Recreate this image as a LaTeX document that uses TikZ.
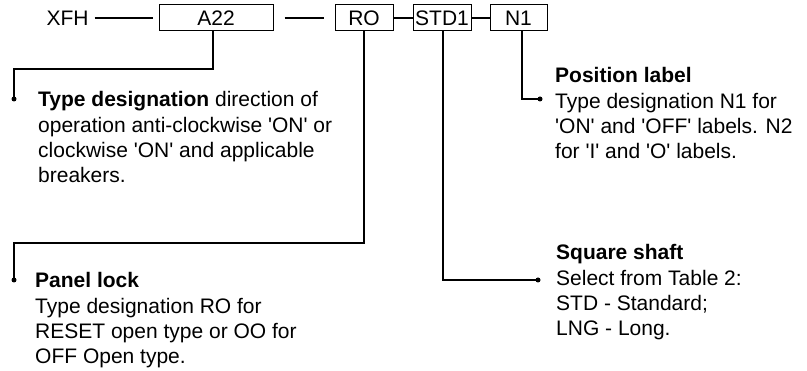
\documentclass[tikz,border=0pt]{standalone}
\usepackage{fontspec}
\setmainfont{Liberation Sans}
\newcommand{\sq}{\textquotesingle}

\begin{document}
\begin{tikzpicture}[
      x=1pt,
      y=-1pt,
      font=\fontsize{21}{25.4}\selectfont,
      codebox/.style={draw, line width=1pt, minimum height=26pt, inner sep=0pt},
      lead/.style={line width=1.1pt},
      note/.style={anchor=north west, align=left, inner sep=0pt},
      tip/.style={circle, fill, inner sep=0pt, minimum size=5pt}
  ]
  \useasboundingbox (0,0) rectangle (807,371);
  % Pixel grid: x to the right, y downwards
  % Code row at y=18, notes hang below

  % --- Type code ---
  \node (xfh)              at (67.5,18)  {XFH};
  \node[codebox, minimum width=114pt] (a22)  at (216,18)   {A22};
  \node[codebox, minimum width=58pt]  (ro)   at (364,18)   {RO};
  \node[codebox, minimum width=58pt]  (std1) at (442,18)   {STD1};
  \node[codebox, minimum width=57pt]  (n1)   at (518.5,18) {N1};

  \draw[lead, shorten <=2.5pt, shorten >=6pt] (xfh) -- (a22);
  \draw[lead, shorten <=11pt, shorten >=11pt] (a22) -- (ro);
  \draw[lead] (ro) -- (std1);
  \draw[lead] (std1) -- (n1);

  % --- Lead-out dots ---
  \node[tip] (tiptype)  at (14,99)  {};
  \node[tip] (tippanel) at (14,280) {};
  \node[tip] (tipshaft) at (538,280) {};
  \node[tip] (tippos)   at (540,99) {};

  \coordinate (bendtype)  at (14,69);
  \coordinate (bendpanel) at (14,243);

  % --- Leaders ---
  \draw[lead] ([xshift=-3pt]a22.south) |- (bendtype) -- (tiptype.center);
  \draw[lead] (ro.south) |- (bendpanel) -- (tippanel.center);
  \draw[lead] ([xshift=1pt]std1.south) |- (tipshaft.center);
  \draw[lead] ([xshift=3.5pt]n1.south) |- (tippos.center);

  % --- Notes ---
  \node[note] (typenote)  at (38,91.3)  {\textbf{Type designation} direction of\\operation anti-clockwise \sq ON\sq{} or\\clockwise \sq ON\sq{} and applicable\\breakers.};
  \node[note] (panelnote) at (35,272.3) {\textbf{Panel lock}\\Type designation RO for\\RESET open type or OO for\\OFF Open type.};
  \node[note] (posnote)   at (555,67.3) {\textbf{Position label}\\Type designation N1 for\\\sq ON\sq{} and \sq OFF\sq{} labels. N2\\for \sq I\sq{} and \sq O\sq{} labels.};
  \node[note] (shaftnote) at (556,244.3) {\textbf{Square shaft}\\Select from Table 2:\\STD - Standard;\\LNG - Long.};

  \end{tikzpicture}
\end{document}
